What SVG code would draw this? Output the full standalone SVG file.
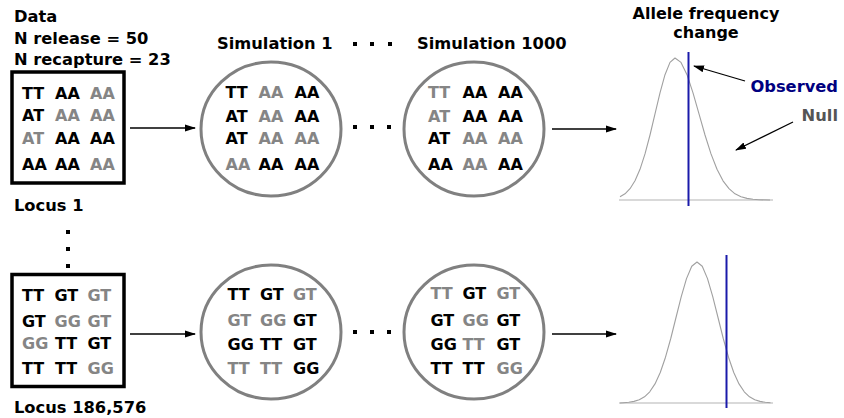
<svg xmlns="http://www.w3.org/2000/svg" width="844" height="418" viewBox="0 0 844 418">
<style>
text{font-family:"DejaVu Sans","Liberation Sans",sans-serif;font-weight:bold;font-size:16px;fill:#000}
.h{font-size:16.3px}
.g{fill:#858585}
.box{fill:#fff;stroke:#000;stroke-width:3.5}
.circ{fill:#fff;stroke:#808080;stroke-width:3}
.arr{stroke:#000;stroke-width:1.3;fill:none}
.dist{fill:none;stroke:#a0a0a0;stroke-width:1.1;stroke-linejoin:round}
.axis{stroke:#cccccc;stroke-width:1.5}
.obs{stroke:#1a1aaa;stroke-width:2}
.dot{fill:#000}
</style>
<defs>
<marker id="ah" markerWidth="11" markerHeight="8" refX="10" refY="4" orient="auto" markerUnits="userSpaceOnUse">
<path d="M0,0.5 L11,4 L0,7.5 z" fill="#000"/>
</marker>
</defs>

<g id="header-data">
<text class="h" x="14" y="22">Data</text>
<text class="h" x="14" y="43.5">N release = 50</text>
<text class="h" x="14" y="65">N recapture = 23</text>
</g>

<g id="header-sims">
<text class="h" x="217" y="49">Simulation 1</text>
<rect class="dot" x="353" y="42" width="4" height="4"/>
<rect class="dot" x="370" y="42" width="4" height="4"/>
<rect class="dot" x="388" y="42" width="4" height="4"/>
<text class="h" x="417" y="49">Simulation 1000</text>
</g>

<g id="header-chart">
<text x="706" y="18.8" text-anchor="middle">Allele frequency</text>
<text x="706" y="37.6" text-anchor="middle">change</text>
</g>

<g id="locus1-data">
<rect class="box" x="12" y="72" width="112" height="111"/>
<text x="22" y="98.5">TT</text><text x="55" y="98.5">AA</text><text class="g" x="90" y="98.5">AA</text>
<text x="22" y="121">AT</text><text class="g" x="55" y="121">AA</text><text class="g" x="90" y="121">AA</text>
<text class="g" x="22" y="144">AT</text><text x="55" y="144">AA</text><text x="90" y="144">AA</text>
<text x="22" y="169.5">AA</text><text x="55" y="169.5">AA</text><text class="g" x="90" y="169.5">AA</text>
<text class="h" x="14" y="211">Locus 1</text>
</g>

<g id="locus1-sim1">
<ellipse class="circ" cx="271" cy="129" rx="70" ry="67"/>
<text x="225.5" y="98">TT</text><text class="g" x="258.5" y="98">AA</text><text x="294.5" y="98">AA</text>
<text x="225.5" y="121.5">AT</text><text class="g" x="258.5" y="121.5">AA</text><text x="294.5" y="121.5">AA</text>
<text x="225.5" y="143.5">AT</text><text class="g" x="258.5" y="143.5">AA</text><text class="g" x="294.5" y="143.5">AA</text>
<text class="g" x="225.5" y="169.5">AA</text><text x="258.5" y="169.5">AA</text><text x="294.5" y="169.5">AA</text>
</g>

<g id="locus1-dots">
<rect class="dot" x="353" y="125" width="4" height="4"/>
<rect class="dot" x="370" y="125" width="4" height="4"/>
<rect class="dot" x="387" y="125" width="4" height="4"/>
</g>

<g id="locus1-sim1000">
<ellipse class="circ" cx="474" cy="129" rx="70" ry="67"/>
<text class="g" x="428" y="98">TT</text><text x="462.5" y="98">AA</text><text x="498" y="98">AA</text>
<text class="g" x="428" y="121.5">AT</text><text x="462.5" y="121.5">AA</text><text x="498" y="121.5">AA</text>
<text x="428" y="143.5">AT</text><text class="g" x="462.5" y="143.5">AA</text><text class="g" x="498" y="143.5">AA</text>
<text x="428" y="169.5">AA</text><text class="g" x="462.5" y="169.5">AA</text><text x="498" y="169.5">AA</text>
</g>

<g id="locus1-chart">
<line class="axis" x1="619" y1="200" x2="773" y2="200"/>
<path class="dist" d="M620,196.8 L625,193.8 L630,188.7 L635,180.8 L640,169.3 L645,153.9 L650,135.0 L655,113.9 L660,92.8 L665,74.7 L670,62.4 L675,58 L681,62.4 L687,74.7 L693,92.8 L699,113.9 L705,135.0 L711,153.9 L717,169.3 L723,180.8 L729,188.7 L735,193.8 L741,196.8 L747,198.4 L753,199.3 L759,199.7 L770,200"/>
<line class="obs" x1="688.5" y1="52" x2="688.5" y2="206"/>
<text class="h" x="838" y="92" text-anchor="end" style="fill:#000080">Observed</text>
<text class="h" x="838" y="121" text-anchor="end" style="fill:#555555">Null</text>
</g>

<g id="vertical-dots">
<rect class="dot" x="66" y="230" width="4" height="4"/>
<rect class="dot" x="66" y="247" width="4" height="4"/>
<rect class="dot" x="66" y="264" width="4" height="4"/>
</g>

<g id="locus2-data">
<rect class="box" x="12" y="274.5" width="112" height="112"/>
<text x="22" y="300.5">TT</text><text x="54.5" y="300.5">GT</text><text class="g" x="87.5" y="300.5">GT</text>
<text x="22" y="326.5">GT</text><text class="g" x="54.5" y="326.5">GG</text><text class="g" x="87.5" y="326.5">GT</text>
<text class="g" x="22" y="349">GG</text><text x="55" y="349">TT</text><text x="87.5" y="349">GT</text>
<text x="22" y="374">TT</text><text x="55" y="374">TT</text><text class="g" x="87.5" y="374">GG</text>
<text class="h" x="14" y="413">Locus 186,576</text>
</g>

<g id="locus2-sim1">
<ellipse class="circ" cx="271" cy="332" rx="70" ry="67"/>
<text x="227.5" y="300">TT</text><text x="260" y="300">GT</text><text class="g" x="293" y="300">GT</text>
<text class="g" x="227.5" y="325.5">GT</text><text class="g" x="260" y="325.5">GG</text><text x="293" y="325.5">GT</text>
<text x="227.5" y="350">GG</text><text x="260" y="350">TT</text><text x="293" y="350">GT</text>
<text class="g" x="227.5" y="374">TT</text><text class="g" x="260" y="374">TT</text><text x="293" y="374">GG</text>
</g>

<g id="locus2-dots">
<rect class="dot" x="353" y="330" width="4" height="4"/>
<rect class="dot" x="370" y="330" width="4" height="4"/>
<rect class="dot" x="387" y="330" width="4" height="4"/>
</g>

<g id="locus2-sim1000">
<ellipse class="circ" cx="474" cy="332" rx="70" ry="67"/>
<text class="g" x="430.5" y="299">TT</text><text x="462.5" y="299">GT</text><text class="g" x="496.5" y="299">GT</text>
<text x="430.5" y="325.5">GT</text><text class="g" x="462.5" y="325.5">GG</text><text x="496.5" y="325.5">GT</text>
<text x="430.5" y="349.5">GG</text><text class="g" x="462.5" y="349.5">TT</text><text x="496.5" y="349.5">GT</text>
<text x="430.5" y="374">TT</text><text x="462.5" y="374">TT</text><text class="g" x="496.5" y="374">GG</text>
</g>

<g id="locus2-chart">
<line class="axis" x1="619" y1="403" x2="773" y2="403"/>
<path class="dist" d="M620,403 L623.5,402.7 L628.75,402.3 L634,401.4 L639.25,399.8 L644.5,396.8 L649.75,391.8 L655,383.9 L660.25,372.5 L665.5,357.2 L670.75,338.5 L676,317.5 L681.25,296.6 L686.5,278.6 L691.75,266.3 L697,262 L702.25,266.3 L707.5,278.6 L712.75,296.6 L718,317.5 L723.25,338.5 L728.5,357.2 L733.75,372.5 L739,383.9 L744.25,391.8 L749.5,396.8 L754.75,399.8 L760,401.4 L765.25,402.3 L770.5,402.7"/>
<line class="obs" x1="726.5" y1="255" x2="726.5" y2="408"/>
</g>

<g id="connectors">
<line class="arr" x1="130" y1="128" x2="195" y2="128" marker-end="url(#ah)"/>
<line class="arr" x1="552" y1="129" x2="616" y2="129" marker-end="url(#ah)"/>
<line class="arr" x1="745" y1="81" x2="694" y2="66" marker-end="url(#ah)"/>
<line class="arr" x1="793" y1="122" x2="736" y2="150" marker-end="url(#ah)"/>
<line class="arr" x1="130" y1="334" x2="195" y2="334" marker-end="url(#ah)"/>
<line class="arr" x1="552" y1="334" x2="616" y2="334" marker-end="url(#ah)"/>
</g>
</svg>
